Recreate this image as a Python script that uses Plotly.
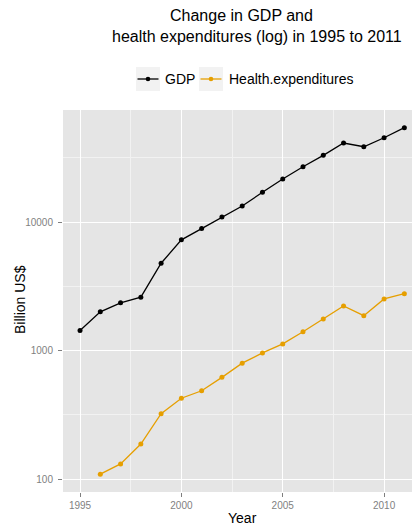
import plotly.graph_objects as go

# Annual values, billion US$
years = list(range(1995, 2012))
gdp = [1432, 2000, 2350, 2600, 4775, 7260, 8890, 10940, 13330, 17020,
       21620, 26920, 33030, 41190, 38520, 45260, 54180]
health_years = list(range(1996, 2012))
health = [109, 131, 187, 322, 425, 486, 618, 797, 957, 1125,
          1399, 1758, 2219, 1866, 2518, 2767]

series_names = ["GDP", "Health.expenditures"]
series_colors = ["#000000", "#E69F00"]

y_tick_vals = [100, 1000, 10000]
y_tick_text = ["100", "1000", "10000"]
x_tick_vals = [1995, 2000, 2005, 2010]

W, H = 412, 531
L, R, T, B = 63, 0, 110, 39
PW, PH = W - L - R, H - T - B
FONT = "Liberation Sans, Arial, Helvetica, sans-serif"


def px(x):
    return (x - L) / PW


def py(y):
    return (H - B - y) / PH


fig = go.Figure()
for name, xs, ys, col in [(series_names[0], years, gdp, series_colors[0]),
                          (series_names[1], health_years, health, series_colors[1])]:
    fig.add_trace(go.Scatter(
        x=xs, y=ys, name=name, mode="lines+markers",
        line=dict(color=col, width=1.3),
        marker=dict(color=col, size=5, symbol="circle"),
        showlegend=False,
    ))

# x spans 1994.16 at the left edge with 20.27 px per year
x0 = 1994.16
fig.update_xaxes(
    range=[x0, x0 + PW / 20.27],
    tickvals=x_tick_vals, ticktext=[str(v) for v in x_tick_vals],
    ticks="outside", ticklen=4, tickcolor="#7F7F7F", tickwidth=1,
    tickfont=dict(family=FONT, size=10, color="#7F7F7F"),
    showgrid=True, gridcolor="#FFFFFF", gridwidth=1.3,
    minor=dict(tickvals=[1997.5, 2002.5, 2007.5], showgrid=True,
               gridcolor="#F2F2F2", gridwidth=0.8),
    zeroline=False, showline=False,
)
fig.update_yaxes(
    type="log", range=[1.8988, 4.8716],
    tickvals=y_tick_vals, ticktext=y_tick_text,
    ticks="outside", ticklen=4, tickcolor="#7F7F7F", tickwidth=1,
    ticklabelstandoff=3,
    tickfont=dict(family=FONT, size=10, color="#7F7F7F"),
    showgrid=True, gridcolor="#FFFFFF", gridwidth=1.3,
    minor=dict(tickvals=[10 ** 2.5, 10 ** 3.5, 10 ** 4.5], showgrid=True,
               gridcolor="#F2F2F2", gridwidth=0.8),
    zeroline=False, showline=False,
)

annotations = [
    dict(text="Change in GDP and", x=px(241), y=py(15), xanchor="center", yanchor="middle",
         font=dict(family=FONT, size=16, color="#000000")),
    dict(text="health expenditures (log) in 1995 to 2011", x=px(256.5), y=py(36),
         xanchor="center", yanchor="middle", font=dict(family=FONT, size=16, color="#000000")),
    dict(text="Year", x=px(242), y=py(518), xanchor="center", yanchor="middle",
         font=dict(family=FONT, size=14, color="#000000")),
    dict(text="Billion US$", x=px(20), y=py(300), xanchor="center", yanchor="middle",
         textangle=-90, font=dict(family=FONT, size=14, color="#000000")),
]

# Legend: grey key boxes with a line and a dot, followed by the label
shapes = []
legend_keys = [(136, 160, 163), (199, 223, 227)]
for (kx0, kx1, tx), name, col in zip(legend_keys, series_names, series_colors):
    cy = 79
    shapes.append(dict(type="rect", xref="paper", yref="paper",
                       x0=px(kx0), x1=px(kx1), y0=py(91), y1=py(67),
                       fillcolor="#F2F2F2", line=dict(width=0), layer="below"))
    shapes.append(dict(type="line", xref="paper", yref="paper",
                       x0=px(kx0 + 1.5), x1=px(kx1 - 1.5), y0=py(cy), y1=py(cy),
                       line=dict(color=col, width=1.3)))
    cx = (kx0 + kx1) / 2
    shapes.append(dict(type="circle", xref="paper", yref="paper",
                       x0=px(cx - 2.3), x1=px(cx + 2.3), y0=py(cy + 2.3), y1=py(cy - 2.3),
                       fillcolor=col, line=dict(width=0)))
    annotations.append(dict(text=name, x=px(tx), y=py(cy), xanchor="left", yanchor="middle",
                            font=dict(family=FONT, size=14, color="#000000")))

for a in annotations:
    a.update(xref="paper", yref="paper", showarrow=False)

fig.update_layout(
    width=W, height=H,
    margin=dict(l=L, r=R, t=T, b=B, pad=0),
    paper_bgcolor="#FFFFFF", plot_bgcolor="#E5E5E5",
    annotations=annotations, shapes=shapes,
    showlegend=False,
    font=dict(family=FONT),
)

fig.write_html("out.html")
